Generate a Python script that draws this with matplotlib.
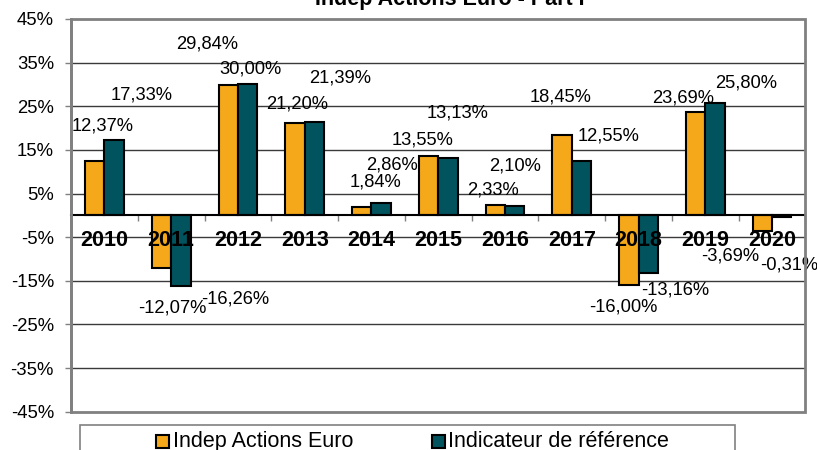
import numpy as np
import matplotlib
matplotlib.use('Agg')
import matplotlib.pyplot as plt
from matplotlib.patches import Rectangle

plt.rcParams['font.family'] = ['Liberation Sans', 'DejaVu Sans']

# data
years = ['2010', '2011', '2012', '2013', '2014', '2015', '2016', '2017', '2018', '2019', '2020']
fund = [12.37, -12.07, 29.84, 21.20, 1.84, 13.55, 2.33, 18.45, -16.00, 23.69, -3.69]
bench = [17.33, -16.26, 30.00, 21.39, 2.86, 13.13, 2.10, 12.55, -13.16, 25.80, -0.31]
fund_name = 'Indep Actions Euro'
bench_name = 'Indicateur de référence'
title = 'Indep Actions Euro - Part I'

# label offsets (category units, % points) from the top of each bar, as placed in the original
fund_dx = [0.12, 0.16, -0.32, 0.03, 0.20, -0.09, -0.04, -0.02, -0.08, -0.18, -0.48]
fund_dy = [8.0, -9.1, 9.5, 4.3, 5.9, 3.7, 3.5, 8.6, -5.0, 3.3, -5.6]
bench_dx = [0.41, 0.81, 0.04, 0.38, 0.16, 0.14, 0.01, 0.41, 0.40, 0.47, 0.11]
bench_dy = [10.3, -2.8, 3.6, 10.0, 8.6, 10.3, 9.1, 5.6, -3.9, 4.5, -11.0]

orange = '#F5A819'
teal = '#01535E'
gray = '#808080'

fig = plt.figure(figsize=(8.17, 4.5), dpi=100)
ax = fig.add_axes([0.0869, 0.0851, 0.8990, 0.8727])

x = np.arange(len(years))
w = 0.29
ax.bar(x - w / 2, fund, w, color=orange, edgecolor='black', linewidth=1.5, zorder=3)
ax.bar(x + w / 2, bench, w, color=teal, edgecolor='black', linewidth=1.5, zorder=3)

def fmt(v):
    return '{:.2f}%'.format(v).replace('.', ',')

for i in range(len(years)):
    ax.text(x[i] - w / 2 + fund_dx[i], fund[i] + fund_dy[i], fmt(fund[i]),
            ha='center', va='center', fontsize=13.2, zorder=5)
    ax.text(x[i] + w / 2 + bench_dx[i], bench[i] + bench_dy[i], fmt(bench[i]),
            ha='center', va='center', fontsize=13.2, zorder=5)
    ax.text(x[i], -5.8, years[i], ha='center', va='center', fontsize=15.5,
            fontweight='bold', zorder=6)

ax.set_xlim(-0.5, len(years) - 0.5)
ax.set_ylim(-45, 45)
yt = np.arange(-45, 46, 10)
ax.set_yticks(yt)
ax.set_yticklabels(['{}%'.format(v) for v in yt], fontsize=13.3)
for v in yt[1:-1]:
    ax.axhline(v, color='#3a3a3a', linewidth=1.0, zorder=1)

ax.set_xticks(np.arange(-0.5, len(years), 1.0))
ax.set_xticklabels([])
ax.tick_params(axis='x', direction='out', length=4.3, width=1, color=gray)
ax.tick_params(axis='y', direction='out', length=4.3, width=1, color=gray, pad=8)

ax.spines['bottom'].set_position(('data', 0))
ax.spines['bottom'].set_color('black')
ax.spines['bottom'].set_linewidth(1.5)
ax.spines['bottom'].set_zorder(4)
ax.spines['left'].set_color(gray)
ax.spines['left'].set_linewidth(2)
ax.spines['top'].set_visible(False)
ax.spines['right'].set_visible(False)
ax.add_patch(Rectangle((0, 0), 1, 1, transform=ax.transAxes, fill=False,
                       edgecolor=gray, linewidth=2, clip_on=False, zorder=7))

fig.text(0.551, 0.989, title, ha='center', va='baseline', fontsize=15.5, fontweight='bold')

# legend box, cut by the bottom edge as in the original
W, H = 817.0, 450.0
fig.patches.append(Rectangle((80 / W, -0.05), 655 / W, 0.05 + 25 / H, transform=fig.transFigure,
                             fill=False, edgecolor=gray, linewidth=1.2))
fig.patches.append(Rectangle((156 / W, 1 - 448 / H), 13 / W, 13 / H, transform=fig.transFigure,
                             facecolor=orange, edgecolor='black', linewidth=1.5))
fig.patches.append(Rectangle((432 / W, 1 - 448 / H), 13 / W, 13 / H, transform=fig.transFigure,
                             facecolor=teal, edgecolor='black', linewidth=1.5))
fig.text(173 / W, 1 - 441.5 / H, fund_name, ha='left', va='center', fontsize=15.5)
fig.text(448 / W, 1 - 441.5 / H, bench_name, ha='left', va='center', fontsize=15.5)

fig.savefig('out.png', dpi=100)
